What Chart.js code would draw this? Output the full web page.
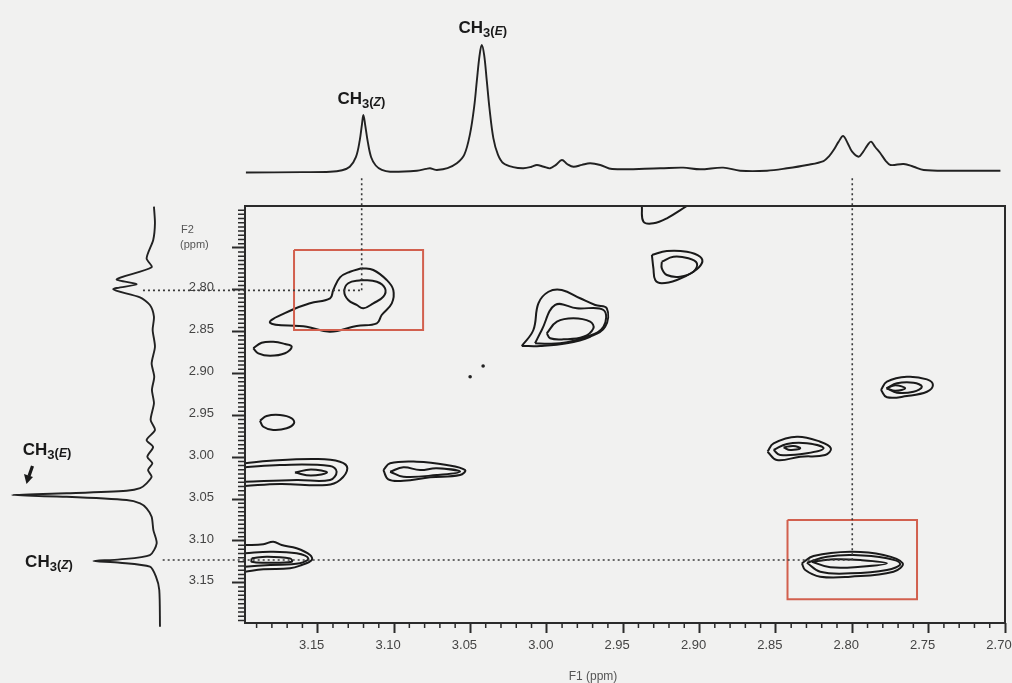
<!DOCTYPE html>
<html><head><meta charset="utf-8">
<script src="https://cdn.jsdelivr.net/npm/chart.js@4.4.1/dist/chart.umd.min.js"></script>
<style>
html,body{margin:0;padding:0;background:#f1f1f0;}
#wrap{position:relative;width:1012px;height:683px;overflow:hidden;background:#f1f1f0;}
#wrap canvas{position:absolute;left:0;top:0;}
</style></head><body>
<div id="wrap">
<canvas id="topSpec" width="1012" height="200"></canvas>
<canvas id="leftSpec" width="245" height="683"></canvas>
<canvas id="main" width="1012" height="683"></canvas>
</div>
<script>
// ---------- axis ticks ----------
const xTickValues = [3.15, 3.10, 3.05, 3.00, 2.95, 2.90, 2.85, 2.80, 2.75, 2.70];
const yTickValues = [2.75, 2.80, 2.85, 2.90, 2.95, 3.00, 3.05, 3.10, 3.15];
const xMinorStep = 0.01;
const yMinorStep = 0.005;

// ---------- 1D projection along F1 (top) ----------
const topPpm = [3.197, 3.160, 3.1419, 3.1340, 3.1290, 3.1250, 3.1225, 3.1210, 3.1201, 3.1190, 3.1172, 3.1150, 3.1120, 3.1080, 3.1026, 3.0851, 3.0790, 3.0764, 3.0740, 3.0720, 3.0650, 3.0589, 3.0540, 3.0502, 3.0475, 3.0458, 3.0440, 3.0426, 3.0410, 3.0393, 3.0375, 3.0350, 3.0320, 3.0284, 3.0220, 3.0153, 3.0100, 3.0065, 3.0020, 2.9978, 2.9940, 2.9901, 2.9865, 2.9825, 2.9770, 2.9716, 2.9650, 2.9572, 2.9257, 2.9107, 2.8996, 2.8845, 2.8734, 2.8558, 2.8427, 2.8296, 2.8188, 2.8150, 2.8122, 2.8090, 2.8060, 2.8030, 2.8001, 2.7958, 2.7930, 2.7900, 2.7877, 2.7850, 2.7816, 2.7780, 2.7750, 2.7663, 2.7598, 2.7532, 2.7357, 2.7030];
const topIntensity = [0, 0.3, 0.6, 1.8, 4.5, 12, 25, 38, 45.1, 38, 24, 12, 5.5, 2.0, 0.6, 1.4, 2.8, 3.3, 2.5, 2.0, 3.5, 7.2, 14, 30.7, 52, 72, 92, 100, 92, 72, 50, 27, 14, 7.2, 4.2, 3.3, 4.5, 5.9, 4.5, 3.3, 6.0, 9.8, 6.5, 4.5, 6.0, 7.2, 5.9, 2.7, 3.3, 3.8, 2.5, 3.8, 1.4, 1.4, 3.3, 5.9, 9.0, 13, 17.6, 24, 28.6, 23, 16.3, 12.4, 16, 21.5, 24.2, 20, 15.1, 9, 5.9, 6.7, 4.5, 2.0, 1.4, 1.4];

// ---------- 1D projection along F2 (left) ----------
const leftPpm = [2.7008, 2.7207, 2.7406, 2.7625, 2.7732, 2.7875, 2.7935, 2.7995, 2.8090, 2.8182, 2.8322, 2.8481, 2.8680, 2.8879, 2.9039, 2.9198, 2.9356, 2.9556, 2.9675, 2.9795, 2.9878, 2.9994, 3.0073, 3.0153, 3.0233, 3.0312, 3.0370, 3.0400, 3.0431, 3.0452, 3.0472, 3.0511, 3.0550, 3.0610, 3.0711, 3.0870, 3.1028, 3.1168, 3.1220, 3.1240, 3.1260, 3.1308, 3.1427, 3.1586, 3.2024];
const leftIntensity = [1.4, 0.7, 1.9, 6.5, 3.0, 27.3, 13.4, 29.7, 11.1, 4.2, 1.4, 2.3, 0.7, 3.0, 1.2, 2.8, 1.4, 3.7, 0.7, 6.5, 2.0, 6.0, 2.5, 5.5, 3.0, 6.5, 11.0, 20.4, 62.0, 100, 62.0, 20.4, 11.0, 6.5, 3.0, 1.8, -0.5, 4.2, 25.0, 43.5, 25.0, 4.2, 0.0, -2.3, -2.8];

// ---------- 2D contours: [F1 ppm, F2 ppm] ----------
const zOuter = [[3.1212,2.7744],[3.1136,2.7764],[3.1048,2.7884],[3.1005,2.8003],[3.1015,2.8162],[3.1081,2.8302],[3.1113,2.8401],[3.1245,2.8433],[3.1419,2.8501],[3.1572,2.8442],[3.1812,2.8394],[3.1670,2.8242],[3.1550,2.8162],[3.1419,2.8102],[3.1398,2.8003],[3.1354,2.7852],[3.1288,2.7785]];
const zInner = [[3.1212,2.7884],[3.1113,2.7904],[3.1059,2.7983],[3.1070,2.8083],[3.1136,2.8162],[3.1201,2.8222],[3.1245,2.8182],[3.1300,2.8123],[3.1326,2.8024],[3.1300,2.7923]];
const small287 = [[3.1922,2.8699],[3.1867,2.8633],[3.1791,2.8621],[3.1714,2.8648],[3.1670,2.8680],[3.1714,2.8759],[3.1812,2.8788],[3.1889,2.8759]];
const small296 = [[3.1878,2.9564],[3.1834,2.9508],[3.1747,2.9496],[3.1670,2.9535],[3.1655,2.9595],[3.1703,2.9655],[3.1791,2.9675],[3.1856,2.9636]];
const row301Outer = [[3.1976,3.0073],[3.1812,3.0042],[3.1507,3.0022],[3.1354,3.0054],[3.1306,3.0133],[3.1354,3.0272],[3.1441,3.0332],[3.1747,3.0320],[3.1976,3.0344]];
const row301Mid = [[3.1976,3.0121],[3.1747,3.0093],[3.1419,3.0105],[3.1376,3.0173],[3.1419,3.0272],[3.1638,3.0272],[3.1976,3.0293]];
const row301Inner = [[3.1649,3.0183],[3.1544,3.0147],[3.1439,3.0183],[3.1544,3.0219]];
const mid301Outer = [[3.1070,3.0153],[3.1026,3.0073],[3.0851,3.0054],[3.0655,3.0093],[3.0535,3.0153],[3.0568,3.0213],[3.0764,3.0240],[3.0939,3.0281],[3.1038,3.0264]];
const mid301Inner = [[3.1026,3.0173],[3.0939,3.0121],[3.0830,3.0153],[3.0720,3.0133],[3.0568,3.0173],[3.0720,3.0213],[3.0939,3.0233]];
const left312Outer = [[3.1976,3.1049],[3.1856,3.1040],[3.1791,3.1009],[3.1736,3.1049],[3.1638,3.1088],[3.1550,3.1168],[3.1539,3.1228],[3.1605,3.1287],[3.1681,3.1327],[3.1856,3.1339],[3.1976,3.1368]];
const left312Mid = [[3.1976,3.1148],[3.1812,3.1129],[3.1638,3.1148],[3.1562,3.1208],[3.1616,3.1267],[3.1812,3.1287],[3.1976,3.1308]];
const left312Inner = [[3.1932,3.1208],[3.1834,3.1188],[3.1681,3.1208],[3.1670,3.1248],[3.1834,3.1260],[3.1932,3.1248]];
const topEdge = [[2.9378,2.70],[2.9367,2.7188],[2.9302,2.7207],[2.9214,2.7147],[2.9083,2.70]];
const p277Outer = [[2.9312,2.7585],[2.9214,2.7537],[2.9083,2.7546],[2.8996,2.7606],[2.8985,2.7684],[2.9040,2.7785],[2.9148,2.7884],[2.9247,2.7923],[2.9290,2.7884],[2.9302,2.7744]];
const p277Inner = [[2.9247,2.7665],[2.9171,2.7606],[2.9073,2.7625],[2.9017,2.7684],[2.9040,2.7785],[2.9127,2.7844],[2.9214,2.7824],[2.9247,2.7744]];
const p285Outer = [[3.0164,2.8672],[3.0088,2.8481],[3.0055,2.8162],[2.9989,2.8024],[2.9902,2.8003],[2.9782,2.8102],[2.9683,2.8182],[2.9607,2.8222],[2.9618,2.8442],[2.9716,2.8561],[2.9869,2.8640],[3.0044,2.8672]];
const p285Mid = [[3.0077,2.8640],[3.0033,2.8481],[2.9945,2.8182],[2.9803,2.8222],[2.9629,2.8242],[2.9629,2.8442],[2.9738,2.8561],[2.9913,2.8640]];
const p285Inner = [[3.0000,2.8520],[2.9934,2.8382],[2.9826,2.8341],[2.9716,2.8382],[2.9695,2.8461],[2.9760,2.8561],[2.9891,2.8592],[2.9978,2.8580]];
const p292Outer = [[2.7812,2.9197],[2.7773,2.9098],[2.7642,2.9039],[2.7511,2.9070],[2.7472,2.9138],[2.7511,2.9218],[2.7642,2.9269],[2.7773,2.9285]];
const p292Inner = [[2.7773,2.9177],[2.7708,2.9117],[2.7599,2.9110],[2.7544,2.9158],[2.7599,2.9218],[2.7708,2.9230]];
const p292Core = [[2.7777,2.9177],[2.7718,2.9141],[2.7654,2.9177],[2.7718,2.9206]];
const p299Outer = [[2.8555,2.9934],[2.8515,2.9834],[2.8362,2.9755],[2.8210,2.9815],[2.8140,2.9894],[2.8177,2.9974],[2.8341,2.9994],[2.8494,3.0034]];
const p299Mid = [[2.8515,2.9914],[2.8428,2.9842],[2.8297,2.9834],[2.8188,2.9894],[2.8297,2.9954],[2.8472,2.9974]];
const p299Inner = [[2.8450,2.9882],[2.8385,2.9866],[2.8341,2.9894],[2.8406,2.9914]];
const e312Outer = [[2.8330,3.1267],[2.8254,3.1180],[2.8013,3.1129],[2.7795,3.1168],[2.7670,3.1267],[2.7730,3.1368],[2.8013,3.1427],[2.8210,3.1427],[2.8308,3.1347]];
const e312Mid = [[2.8297,3.1260],[2.8166,3.1188],[2.7991,3.1168],[2.7773,3.1208],[2.7686,3.1275],[2.7773,3.1347],[2.8013,3.1387],[2.8210,3.1368]];
const e312Inner = [[2.8264,3.1248],[2.8122,3.1219],[2.7947,3.1228],[2.7773,3.1267],[2.7947,3.1308],[2.8144,3.1315]];
const noiseDots = [[3.0502,2.9039],[3.0417,2.8911]];

// ---------- highlight boxes & guide lines ----------
const boxZ = [[3.1655,2.7525],[3.0810,2.7525],[3.0810,2.8481],[3.1655,2.8481],[3.1655,2.7525]];
const boxE = [[2.8424,3.0750],[2.7576,3.0750],[2.7576,3.1697],[2.8424,3.1697],[2.8424,3.0750]];
const guideZv = [[3.1212,2.667],[3.1212,2.8008]];
const guideZh = [[3.2644,2.8008],[3.1212,2.8008]];
const guideEv = [[2.8000,2.667],[2.8000,3.1228]];
const guideEh = [[3.2515,3.1228],[2.8000,3.1228]];

// ---------- helpers ----------
const FONT = '"Liberation Sans", Arial, Helvetica, sans-serif';
const toXY = arr => arr.map(p => ({x: p[0], y: p[1]}));
const closed = arr => toXY(arr.concat([arr[0]]));
const contour = (arr, isClosed = true) => ({
  data: isClosed ? closed(arr) : toXY(arr),
  showLine: true, pointRadius: 0, borderColor: '#1a1a1a', borderWidth: 2,
  tension: 0.4, fill: false
});
const guide = arr => ({
  data: toXY(arr), showLine: true, pointRadius: 0, borderColor: '#3a3a3a',
  borderWidth: 1.6, borderDash: [2, 3], tension: 0, clip: false
});
const box = arr => ({
  data: toXY(arr), showLine: true, pointRadius: 0, borderColor: '#d2604e',
  borderWidth: 2, tension: 0, clip: false
});

function drawCH3(ctx, cx, baseY, letter) {
  const parts = [
    {t: 'CH', f: 'bold 17px ' + FONT, dy: 0},
    {t: '3', f: 'bold 13px ' + FONT, dy: 4},
    {t: '(', f: 'bold 13px ' + FONT, dy: 2},
    {t: letter, f: 'italic bold 12px ' + FONT, dy: 2},
    {t: ')', f: 'bold 13px ' + FONT, dy: 2}
  ];
  let total = 0;
  parts.forEach(p => { ctx.font = p.f; p.w = ctx.measureText(p.t).width; total += p.w; });
  let x = cx - total / 2;
  ctx.fillStyle = '#1a1a1a';
  ctx.textAlign = 'left';
  ctx.textBaseline = 'alphabetic';
  parts.forEach(p => { ctx.font = p.f; ctx.fillText(p.t, x, baseY + p.dy); x += p.w; });
}

const noUI = {legend: {display: false}, tooltip: {enabled: false}};

// ---------- top projection ----------
new Chart(document.getElementById('topSpec'), {
  type: 'scatter',
  data: {datasets: [{
    data: topPpm.map((p, i) => ({x: p, y: topIntensity[i]})),
    showLine: true, pointRadius: 0, borderColor: '#222', borderWidth: 1.9,
    tension: 0.35, clip: false
  }]},
  options: {
    responsive: false, animation: false, events: [],
    layout: {padding: {left: 245, right: 7, top: 45, bottom: 19.85}},
    plugins: noUI,
    scales: {
      x: {type: 'linear', display: false, reverse: true, min: 2.70, max: 3.1976},
      y: {type: 'linear', display: false, min: -6, max: 100}
    }
  },
  plugins: [{
    id: 'topLabels',
    afterDraw(chart) {
      const {ctx, scales: {x}} = chart;
      ctx.save();
      drawCH3(ctx, x.getPixelForValue(3.1201) - 2, 104, 'Z');
      drawCH3(ctx, x.getPixelForValue(3.0426) + 1, 33, 'E');
      ctx.restore();
    }
  }]
});

// ---------- left projection ----------
new Chart(document.getElementById('leftSpec'), {
  type: 'scatter',
  data: {datasets: [{
    data: leftPpm.map((p, i) => ({x: leftIntensity[i], y: p})),
    showLine: true, pointRadius: 0, borderColor: '#222', borderWidth: 1.9,
    tension: 0.25, clip: false
  }]},
  options: {
    responsive: false, animation: false, events: [],
    layout: {padding: {left: 12, right: 80.4, top: 206, bottom: 60}},
    plugins: noUI,
    scales: {
      x: {type: 'linear', display: false, reverse: true, min: -6, max: 100},
      y: {type: 'linear', display: false, reverse: true, min: 2.70, max: 3.198}
    }
  },
  plugins: [{
    id: 'leftLabels',
    afterDraw(chart) {
      const {ctx} = chart;
      ctx.save();
      drawCH3(ctx, 47, 455, 'E');
      drawCH3(ctx, 49, 567, 'Z');
      ctx.strokeStyle = '#1a1a1a'; ctx.fillStyle = '#1a1a1a'; ctx.lineWidth = 3.2;
      ctx.beginPath(); ctx.moveTo(32.5, 466); ctx.lineTo(29, 476); ctx.stroke();
      ctx.beginPath(); ctx.moveTo(24, 474); ctx.lineTo(33, 477); ctx.lineTo(26.5, 484); ctx.closePath(); ctx.fill();
      ctx.restore();
    }
  }]
});

// ---------- main 2D plot ----------
const framePlugin = {
  id: 'frame',
  afterDraw(chart) {
    const {ctx, chartArea: a, scales: {x, y}} = chart;
    ctx.save();
    ctx.strokeStyle = '#2b2b2b';
    ctx.lineWidth = 2;
    ctx.strokeRect(a.left, a.top, a.right - a.left, a.bottom - a.top);
    ctx.lineWidth = 1.5;
    ctx.beginPath();
    for (let i = 1; 2.70 + i * xMinorStep < x.max; i++) {
      if (i % 5 === 0) continue;
      const px = x.getPixelForValue(2.70 + i * xMinorStep);
      ctx.moveTo(px, a.bottom); ctx.lineTo(px, a.bottom + 5);
    }
    for (let i = 1; 2.70 + i * yMinorStep < y.max; i++) {
      if (i % 10 === 0) continue;
      const py = y.getPixelForValue(2.70 + i * yMinorStep);
      ctx.moveTo(a.left - 7, py); ctx.lineTo(a.left, py);
    }
    ctx.stroke();
    ctx.fillStyle = '#555';
    ctx.textAlign = 'left';
    ctx.textBaseline = 'alphabetic';
    ctx.font = '11px ' + FONT;
    ctx.fillText('F2', 181, 233);
    ctx.fillText('(ppm)', 180, 248);
    ctx.textAlign = 'center';
    ctx.font = '12px ' + FONT;
    ctx.fillText('F1 (ppm)', 593, 680);
    ctx.restore();
  }
};

const tickFont = {family: FONT, size: 13};
new Chart(document.getElementById('main'), {
  type: 'scatter',
  data: {datasets: [
    guide(guideZv), guide(guideZh), guide(guideEv), guide(guideEh),
    box(boxZ), box(boxE),
    contour(zOuter), contour(zInner), contour(small287), contour(small296),
    contour(row301Outer, false), contour(row301Mid, false), contour(row301Inner),
    contour(mid301Outer), contour(mid301Inner),
    contour(left312Outer, false), contour(left312Mid, false), contour(left312Inner),
    contour(topEdge, false),
    contour(p277Outer), contour(p277Inner),
    contour(p285Outer), contour(p285Mid), contour(p285Inner),
    contour(p292Outer), contour(p292Inner), contour(p292Core),
    contour(p299Outer), contour(p299Mid), contour(p299Inner),
    contour(e312Outer), contour(e312Mid), contour(e312Inner),
    {data: toXY(noiseDots), showLine: false, pointRadius: 1.8, pointBackgroundColor: '#222', pointBorderWidth: 0}
  ]},
  options: {
    responsive: false, animation: false, events: [],
    layout: {padding: {left: 0, top: 206, right: 7, bottom: 0}},
    plugins: noUI,
    scales: {
      x: {
        type: 'linear', reverse: true, min: 2.70, max: 3.1976,
        afterBuildTicks: s => { s.ticks = xTickValues.map(v => ({value: v})); },
        afterFit: s => { s.height = 60; s.paddingLeft = 0; s.paddingRight = 0; },
        ticks: {autoSkip: false, maxRotation: 0, padding: 5, labelOffset: -6,
                color: '#444', font: tickFont, callback: v => Number(v).toFixed(2)},
        grid: {drawOnChartArea: false, drawTicks: true, tickLength: 10, tickWidth: 2, tickColor: '#2b2b2b'},
        border: {display: false}
      },
      y: {
        type: 'linear', reverse: true, min: 2.70, max: 3.198,
        afterBuildTicks: s => { s.ticks = yTickValues.map(v => ({value: v})); },
        afterFit: s => { s.width = 245; s.paddingTop = 0; s.paddingBottom = 0; },
        ticks: {autoSkip: false, padding: 18, labelOffset: -2,
                color: '#444', font: tickFont,
                callback: v => (Math.round(v * 100) >= 280 ? Number(v).toFixed(2) : '')},
        grid: {drawOnChartArea: false, drawTicks: true, tickLength: 13, tickWidth: 2, tickColor: '#2b2b2b'},
        border: {display: false}
      }
    }
  },
  plugins: [framePlugin]
});
</script>
</body></html>
